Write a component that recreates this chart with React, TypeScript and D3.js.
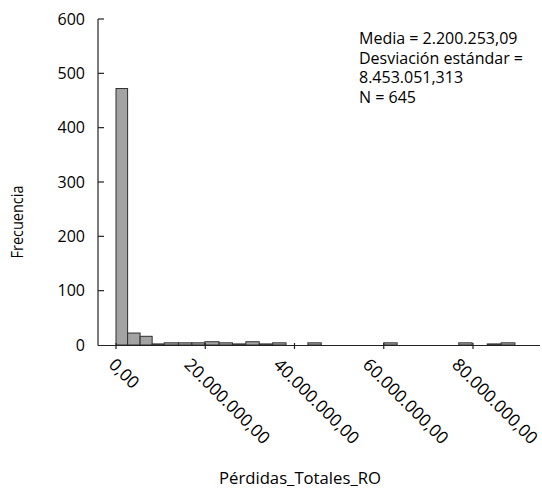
import React from "react";
import * as d3 from "d3";

// Histogram bins (values in millions)
const binStart = [0, 2.6, 5.4, 8.1, 10.8, 14.0, 17.0, 19.9, 23.1, 26.1, 29.1, 32.1, 35.1, 43.0, 60.0, 76.8, 83.2, 86.3];
const binEnd = [2.6, 5.4, 8.1, 10.8, 14.0, 17.0, 19.9, 23.1, 26.1, 29.1, 32.1, 35.1, 38.1, 46.0, 63.0, 79.8, 86.3, 89.4];
const counts = [472, 22, 16, 2, 4, 4, 4, 6, 4, 2, 6, 2, 4, 4, 4, 4, 2, 4];

const xTicks = [0, 20000000, 40000000, 60000000, 80000000];
const yTicks = [0, 100, 200, 300, 400, 500, 600];

const statLines = ["Media = 2.200.253,09", "Desviación estándar =", "8.453.051,313", "N = 645"];
const xTitle = "Pérdidas_Totales_RO";
const yTitle = "Frecuencia";

const W = 542;
const H = 489;
const FONT = "'Open Sans', 'Noto Sans', sans-serif";

const esLocale = d3.formatLocale({ decimal: ",", thousands: ".", grouping: [3], currency: ["", "€"] });
const fmt = esLocale.format(",.2f");

function measure(text: string, size: number): number {
  try {
    const c = document.createElement("canvas");
    const ctx = c.getContext("2d");
    if (ctx) {
      ctx.font = `${size}px 'Open Sans'`;
      return ctx.measureText(text).width;
    }
  } catch (e) {}
  return text.length * size * 0.5;
}

export default function App() {
  const x = d3.scaleLinear().domain([0, 80000000]).range([116, 473]);
  const y = d3.scaleLinear().domain([0, 600]).range([345, 19]);
  const axisX0 = 98;
  const axisX1 = 540;
  const y0 = y(0);
  const xfs = 17.3;

  const bars = counts.map((c, i) => ({
    x0: x(binStart[i] * 1e6),
    x1: x(binEnd[i] * 1e6),
    yTop: y(c),
  }));

  return (
    <svg
      width={W}
      height={H}
      style={{ position: "absolute", left: 0, top: 0, background: "#fff" }}
      fontFamily={FONT}
    >
      <rect x={0} y={0} width={W} height={H} fill="#fff" />
      {/* bars */}
      {bars.map((b, i) => (
        <rect
          key={i}
          x={b.x0}
          y={b.yTop}
          width={b.x1 - b.x0}
          height={y0 - b.yTop}
          fill="#a3a3a3"
          stroke="#2e2e2e"
          strokeWidth={1}
        />
      ))}
      {/* y axis */}
      <line x1={axisX0} x2={axisX0} y1={y(600)} y2={y0 + 0.5} stroke="#222" strokeWidth={1.2} />
      {yTicks.map((t) => (
        <g key={t}>
          {t > 0 && <line x1={axisX0} x2={axisX0 + 6} y1={y(t)} y2={y(t)} stroke="#222" strokeWidth={1.2} />}
          <text x={85} y={y(t) + 5.5} textAnchor="end" fontSize={16} fill="#000">
            {t}
          </text>
        </g>
      ))}
      {/* x axis */}
      <line x1={axisX0} x2={axisX1} y1={y0 + 0.5} y2={y0 + 0.5} stroke="#222" strokeWidth={1.2} />
      {xTicks.map((t) => {
        const label = fmt(t);
        const L = measure(label, xfs);
        const capH = xfs * 0.714;
        const bw = (L + capH) * 0.7071;
        const bx = x(t) - 0.25 * bw;
        const by = 357 + capH * 0.7071;
        return (
          <g key={t}>
            <line x1={x(t)} x2={x(t)} y1={y0 - 2} y2={y0 + 4} stroke="#222" strokeWidth={1.2} />
            <text x={bx} y={by} fontSize={xfs} fill="#000" transform={`rotate(45 ${bx} ${by})`}>
              {label}
            </text>
          </g>
        );
      })}
      {/* titles */}
      <text x={300} y={484} textAnchor="middle" fontSize={16.7} fill="#000">
        {xTitle}
      </text>
      <text
        x={23}
        y={222}
        textAnchor="middle"
        fontSize={16}
        fill="#000"
        textLength={73}
        lengthAdjust="spacingAndGlyphs"
        transform={`rotate(-90 23 222)`}
      >
        {yTitle}
      </text>
      {/* stats */}
      {statLines.map((s, i) => (
        <text key={i} x={359} y={44 + i * 19.5} fontSize={16} fill="#000">
          {s}
        </text>
      ))}
    </svg>
  );
}
